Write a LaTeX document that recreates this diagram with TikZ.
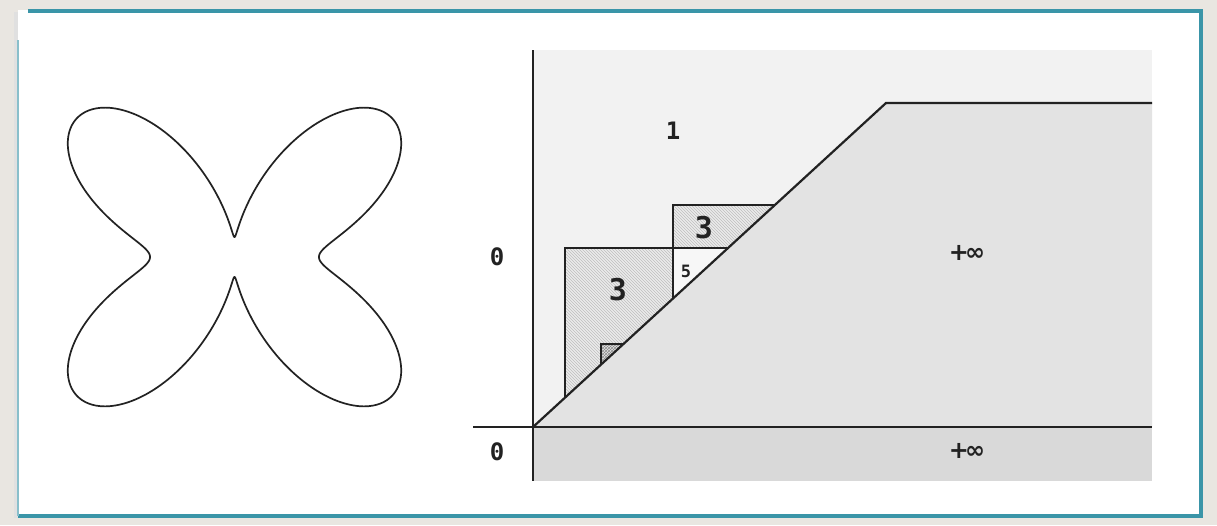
\documentclass[tikz,border=0pt]{standalone}
\usepackage{fontspec}
\newfontfamily\digitfont{DejaVu Sans Mono}
\newfontfamily\symfont{DejaVu Sans}
\usetikzlibrary{patterns}
\definecolor{bgc}{HTML}{E9E6E1}
\definecolor{tealc}{HTML}{3A95A8}
\definecolor{inkc}{HTML}{222222}
\tikzset{
  axisline/.style={draw=inkc, line width=2.2pt},
  edgeline/.style={draw=inkc, line width=1.7pt},
  topfill/.style={fill=black!5},
  lowfill/.style={fill=black!11},
  stripfill/.style={fill=black!15},
  hatchfill/.style={preaction={fill=black!8}, pattern=north west lines, pattern color=black!25},
  lightfill/.style={fill=black!3},
  densefill/.style={preaction={fill=black!10}, pattern=crosshatch, pattern color=black!45},
  bigdigit/.style={font=\digitfont\bfseries\fontsize{30}{30}\selectfont, text=inkc, inner sep=0pt},
  middigit/.style={font=\digitfont\bfseries\fontsize{24}{24}\selectfont, text=inkc, inner sep=0pt},
  smalldigit/.style={font=\digitfont\bfseries\fontsize{17}{17}\selectfont, text=inkc, inner sep=0pt},
  inflabel/.style={font=\symfont\bfseries\fontsize{24}{24}\selectfont, text=inkc, inner sep=0pt},
  curveline/.style={draw=inkc, line width=1.7pt, line join=round},
  framesides/.style={draw=tealc, line width=4.5pt},
}
\begin{document}
\begin{tikzpicture}[x=1pt,y=-1pt]
\useasboundingbox (0,0) rectangle (1217,525);
% background and frame
\fill[bgc] (0,0) rectangle (1217,525);
\fill[black!12] (14,12) rectangle (19,518);
\fill[white] (18,10) rectangle (1201,516);
\draw[framesides] (28,11) -- (1201,11) -- (1201,516) -- (18,516);
\draw[draw=tealc!60, line width=1.5pt] (18,40) -- (18,516);

% butterfly curve
\begin{scope}[shift={(234.5,257)}]
\draw[curveline] plot[domain=0:360, samples=721, smooth cycle, variable=\t]
  ({1.03*(51+154*sin(2*\t)^2+31*cos(2*\t))*cos(\t)},
   {(51+154*sin(2*\t)^2+31*cos(2*\t))*sin(\t)});
\end{scope}

% key points
\coordinate (O) at (533,427);
\coordinate (P) at (886,103);
\coordinate (Q) at (1152,103);
\coordinate (R) at (1152,427);
\coordinate (AT) at (533,50);
\coordinate (AB) at (533,481);
\coordinate (HL) at (473,427);
\coordinate (B1) at (565,397.6);
\coordinate (B2) at (565,248);
\coordinate (B3) at (728,248);
\coordinate (S1) at (673,298.5);
\coordinate (S2) at (673,205);
\coordinate (S3) at (775,205);
\coordinate (SX) at (673,248);
\coordinate (T1) at (601,364.6);
\coordinate (T2) at (601,344);
\coordinate (T3) at (623.4,344);

% regions
\fill[topfill] (AT) rectangle (R);
\fill[lowfill] (O) -- (P) -- (Q) -- (R) -- cycle;
\fill[stripfill] (O) rectangle (1152,481);
\fill[hatchfill] (B1) -- (B2) -- (B3) -- cycle;
\fill[hatchfill] (S1) -- (S2) -- (S3) -- cycle;
\fill[lightfill] (S1) -- (SX) -- (B3) -- cycle;
\fill[densefill] (T1) -- (T2) -- (T3) -- cycle;

% lines
\draw[edgeline] (B1) -- (B2) -- (B3);
\draw[edgeline] (S1) -- (S2) -- (S3);
\draw[edgeline, line width=1.2pt] (T1) -- (T2) -- (T3);
\draw[axisline] (AT) -- (AB);
\draw[axisline] (HL) -- (R);
\draw[axisline, line join=miter] (O) -- (P) -- (Q);

% labels
\node[middigit] (one) at (673,131) {1};
\node[bigdigit] (threeA) at (704,228) {3};
\node[bigdigit] (threeB) at (618,290) {3};
\node[smalldigit] (five) at (686,271) {5};
\node[inflabel] (infA) at (967,253) {+\kern-4pt∞};
\node[inflabel] (infB) at (967,451) {+\kern-4pt∞};
\node[middigit] (zeroA) at (497,257) {0};
\node[middigit] (zeroB) at (497,452) {0};
\end{tikzpicture}
\end{document}
